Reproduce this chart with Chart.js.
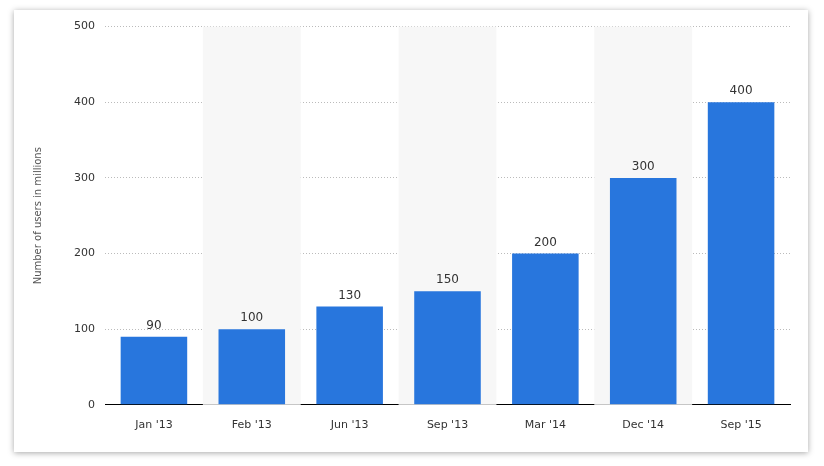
<!DOCTYPE html>
<html>
<head>
<meta charset="utf-8">
<script src="https://cdn.jsdelivr.net/npm/chart.js@4/dist/chart.umd.min.js"></script>
<style>
  body { margin: 0; background: #fff; }
  #card { position: absolute; left: 14px; top: 10px; width: 794px; height: 442px;
          background: #fff; box-shadow: 0 1px 6px rgba(0,0,0,0.35); }
</style>
</head>
<body>
<div id="card"><canvas id="chartUsers"></canvas></div>
<script>
const labels = ["Jan '13", "Feb '13", "Jun '13", "Sep '13", "Mar '14", "Dec '14", "Sep '15"];
const users = [90, 100, 130, 150, 200, 300, 400];

// light bands behind every second category
const bands = {
  id: 'bands',
  beforeDatasetsDraw(chart) {
    const { ctx, chartArea: a, scales: { x } } = chart;
    const w = x.getPixelForValue(1) - x.getPixelForValue(0);
    ctx.save();
    ctx.fillStyle = '#f7f7f7';
    labels.forEach((l, i) => {
      if (i % 2 === 1) {
        ctx.fillRect(x.getPixelForValue(i) - w / 2, a.top, w, a.bottom - a.top);
      }
    });
    ctx.restore();
  },
  afterDatasetsDraw(chart) {
    const { ctx } = chart;
    const meta = chart.getDatasetMeta(0);
    ctx.save();
    ctx.font = '12px "DejaVu Sans"';
    ctx.fillStyle = '#333';
    ctx.textAlign = 'center';
    ctx.textBaseline = 'bottom';
    meta.data.forEach((bar, i) => ctx.fillText(users[i], bar.x, bar.y - 5));
    ctx.restore();
  }
};

new Chart(document.getElementById('chartUsers'), {
  type: 'bar',
  data: {
    labels: labels,
    datasets: [{
      data: users,
      backgroundColor: '#2876dd',
      barPercentage: 0.68,
      categoryPercentage: 1
    }]
  },
  options: {
    responsive: true,
    maintainAspectRatio: false,
    animation: false,
    layout: { padding: { left: 14, right: 18, top: 16, bottom: 14 } },
    plugins: { legend: { display: false }, tooltip: { enabled: false } },
    scales: {
      x: {
        grid: { display: false },
        border: { color: '#000' },
        ticks: { color: '#333', font: { family: 'DejaVu Sans', size: 11 }, padding: 6 }
      },
      y: {
        min: 0, max: 500,
        afterFit(axis) { axis.width = 77; },
        border: { display: false, dash: [1, 2] },
        grid: { color: '#bbb', drawTicks: false },
        ticks: { stepSize: 100, color: '#333', padding: 10, font: { family: 'DejaVu Sans', size: 11 } },
        title: { display: true, text: 'Number of users in millions', color: '#555',
                 font: { family: 'DejaVu Sans', size: 10 } }
      }
    }
  },
  plugins: [bands]
});
</script>
</body>
</html>
